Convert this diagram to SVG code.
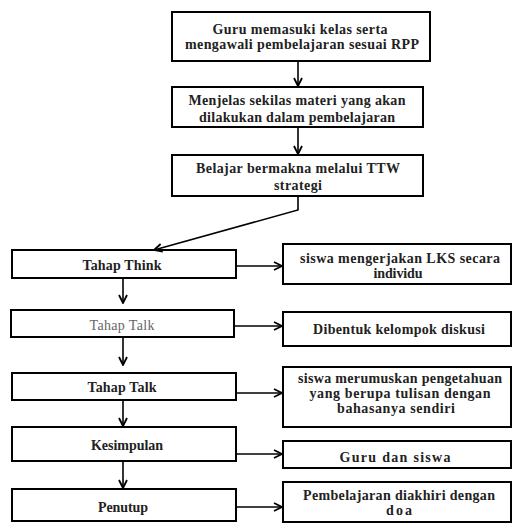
<svg xmlns="http://www.w3.org/2000/svg" width="512" height="523" viewBox="0 0 512 523">
<defs>
<marker id="arr" viewBox="0 0 10 10" refX="9" refY="5" markerWidth="10" markerHeight="10" markerUnits="userSpaceOnUse" orient="auto">
<path d="M1,1 L9,5 L1,9" fill="none" stroke="#000" stroke-width="1.8"/>
</marker>
<style>
.box{fill:#fff;stroke:#000;stroke-width:2}
.t{font-family:'Liberation Serif','Times New Roman','DejaVu Serif',serif;font-size:14px;font-weight:bold;text-anchor:middle;fill:#222}
.n{font-weight:normal;fill:#666}
.c{fill:none;stroke:#000;stroke-width:1.6;marker-end:url(#arr)}
</style>
</defs>
<rect width="512" height="523" fill="#fff"/>
<g id="n1"><rect class="box" x="172" y="12" width="258" height="49"/>
<text class="t" x="300" y="34" textLength="175">Guru memasuki kelas serta</text>
<text class="t" x="302" y="49" textLength="234">mengawali pembelajaran sesuai RPP</text></g>
<g id="n2"><rect class="box" x="172" y="87" width="251" height="40"/>
<text class="t" x="297" y="105" textLength="217">Menjelas sekilas materi yang akan</text>
<text class="t" x="297" y="122" textLength="196">dilakukan dalam pembelajaran</text></g>
<g id="n3"><rect class="box" x="172" y="155" width="251" height="41"/>
<text class="t" x="298" y="173" textLength="204">Belajar bermakna melalui TTW</text>
<text class="t" x="298" y="190" textLength="48">strategi</text></g>
<g id="l1"><rect class="box" x="12" y="250" width="224" height="28"/>
<text class="t" x="122" y="270" textLength="79">Tahap Think</text></g>
<g id="l2"><rect class="box" x="11" y="310" width="223" height="27"/>
<text class="t n" x="122" y="330" textLength="65">Tahap Talk</text></g>
<g id="l3"><rect class="box" x="12" y="373" width="224" height="27"/>
<text class="t" x="122" y="392" textLength="69">Tahap Talk</text></g>
<g id="l4"><rect class="box" x="12" y="427" width="224" height="34"/>
<text class="t" x="127" y="450" textLength="72">Kesimpulan</text></g>
<g id="l5"><rect class="box" x="12" y="489" width="224" height="32"/>
<text class="t" x="123" y="512" textLength="50">Penutup</text></g>
<g id="r1"><rect class="box" x="283" y="244" width="228" height="40"/>
<text class="t" x="400" y="263" textLength="200">siswa mengerjakan LKS secara</text>
<text class="t" x="398" y="278" textLength="49">individu</text></g>
<g id="r2"><rect class="box" x="283" y="312" width="228" height="34"/>
<text class="t" x="399" y="334" textLength="172">Dibentuk kelompok diskusi</text></g>
<g id="r3"><rect class="box" x="283" y="367" width="228" height="60"/>
<text class="t" x="400" y="383" textLength="204">siswa merumuskan pengetahuan</text>
<text class="t" x="400" y="398" textLength="181">yang berupa tulisan dengan</text>
<text class="t" x="396" y="413" textLength="118">bahasanya sendiri</text></g>
<g id="r4"><rect class="box" x="283" y="441" width="228" height="27"/>
<text class="t" x="395" y="462" textLength="111">Guru dan siswa</text></g>
<g id="r5"><rect class="box" x="283" y="482" width="228" height="40"/>
<text class="t" x="399" y="500" textLength="192">Pembelajaran diakhiri dengan</text>
<text class="t" x="399" y="515" textLength="26">doa</text></g>
<g id="connectors">
<path class="c" d="M298,61 V86"/>
<path class="c" d="M298,127 V154"/>
<path class="c" d="M298,196 V210 L154,250"/>
<path class="c" d="M123,278 V303"/>
<path class="c" d="M123,337 V365"/>
<path class="c" d="M123,400 V426"/>
<path class="c" d="M123,461 V488"/>
<path class="c" d="M236,266 H282"/>
<path class="c" d="M234,326 H282"/>
<path class="c" d="M236,393 H282"/>
<path class="c" d="M236,454 H282"/>
<path class="c" d="M236,507 H282"/>
</g>
</svg>
